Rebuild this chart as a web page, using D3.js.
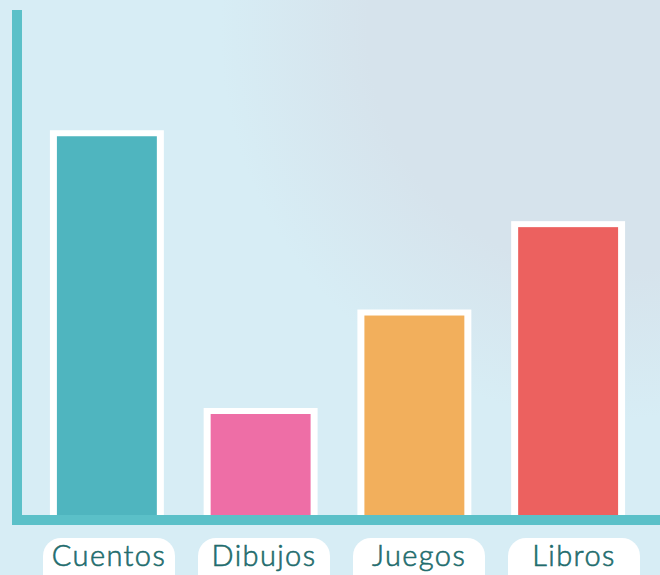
<!DOCTYPE html>
<html>
<head>
<meta charset="utf-8">
<script src="https://cdn.jsdelivr.net/npm/d3@7"></script>
<style>
  body { margin: 0; background: #d7edf5; }
  svg { display: block; }
</style>
</head>
<body>
<script>
// Data
const categories = ['Cuentos', 'Dibujos', 'Juegos', 'Libros'];
const values = [75, 20, 39.5, 57];
const colors = ['#4fb5bf', '#ee6ea6', '#f2af5c', '#ec615f'];

const width = 660;
const height = 575;
const baseY = 515;
const topY = 10;
const axisColor = '#5bc0c8';

const svg = d3.select('body')
  .append('svg')
  .attr('width', width)
  .attr('height', height);

// Background with soft blob top right
const defs = svg.append('defs');
const grad = defs.append('radialGradient')
  .attr('id', 'bg')
  .attr('gradientUnits', 'userSpaceOnUse')
  .attr('cx', 610).attr('cy', 30).attr('r', 390);
grad.append('stop').attr('offset', '0%').attr('stop-color', '#d6e3ec');
grad.append('stop').attr('offset', '62%').attr('stop-color', '#d6e3ec');
grad.append('stop').attr('offset', '100%').attr('stop-color', '#d7edf5');

svg.append('rect')
  .attr('width', width)
  .attr('height', height)
  .attr('fill', 'url(#bg)');

// Scales
const x = d3.scaleBand()
  .domain(categories)
  .range([30, 645])
  .paddingInner(0.35)
  .paddingOuter(0.175);

const y = d3.scaleLinear()
  .domain([0, 100])
  .range([baseY, topY]);

const labelX = d3.scalePoint()
  .domain(categories)
  .range([109, 574]);

// Bars: white frame behind coloured fill
const bar = svg.selectAll('g.bar')
  .data(categories)
  .enter()
  .append('g')
  .attr('class', 'bar');

bar.append('rect')
  .attr('x', d => x(d) - 7)
  .attr('y', (d, i) => y(values[i]) - 6)
  .attr('width', x.bandwidth() + 14)
  .attr('height', (d, i) => baseY - y(values[i]) + 6)
  .attr('fill', '#ffffff');

bar.append('rect')
  .attr('x', d => x(d))
  .attr('y', (d, i) => y(values[i]))
  .attr('width', x.bandwidth())
  .attr('height', (d, i) => baseY - y(values[i]))
  .attr('fill', (d, i) => colors[i]);

// Axes as thick lines
svg.append('line')
  .attr('x1', 17).attr('x2', 17)
  .attr('y1', topY).attr('y2', baseY + 10)
  .attr('stroke', axisColor)
  .attr('stroke-width', 10);

svg.append('line')
  .attr('x1', 12).attr('x2', width)
  .attr('y1', baseY + 5).attr('y2', baseY + 5)
  .attr('stroke', axisColor)
  .attr('stroke-width', 10);

// Category labels in white pills
const label = svg.selectAll('g.label')
  .data(categories)
  .enter()
  .append('g')
  .attr('class', 'label')
  .attr('transform', d => `translate(${labelX(d)}, 0)`);

label.append('rect')
  .attr('x', -66)
  .attr('y', 538)
  .attr('width', 132)
  .attr('height', 56)
  .attr('rx', 18)
  .attr('fill', '#ffffff');

label.append('text')
  .attr('y', 566)
  .attr('text-anchor', 'middle')
  .attr('font-family', 'Lato, sans-serif')
  .attr('font-weight', 300)
  .attr('font-size', 29)
  .attr('letter-spacing', 1.4)
  .attr('fill', '#226c6d')
  .attr('stroke', '#226c6d')
  .attr('stroke-width', 0.6)
  .text(d => d);
</script>
</body>
</html>
